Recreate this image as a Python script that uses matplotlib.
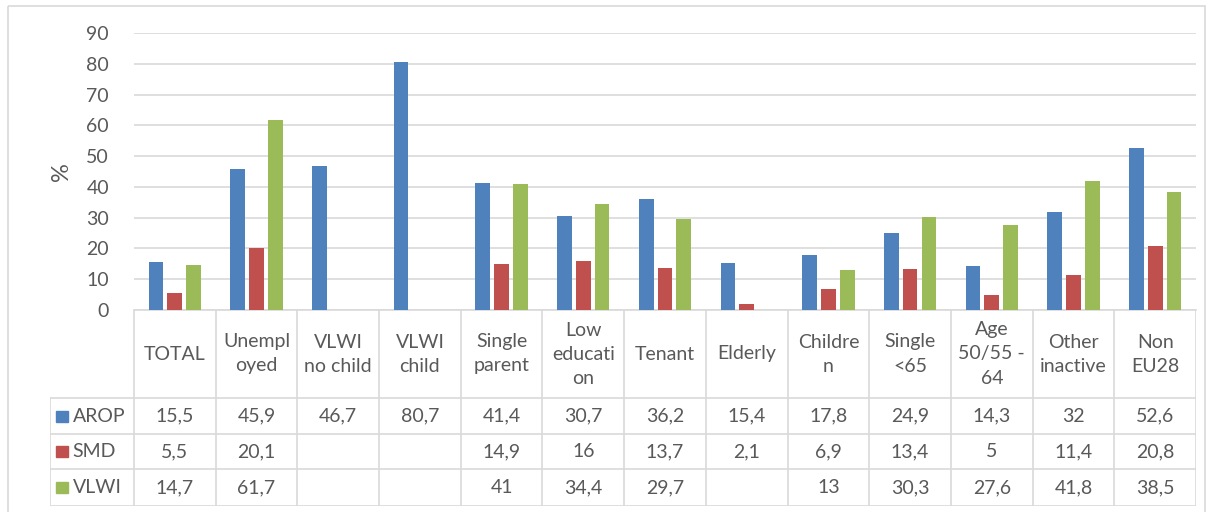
import matplotlib
matplotlib.use("Agg")
import matplotlib.pyplot as plt
from matplotlib.patches import Rectangle
import numpy as np

categories = ["TOTAL", "Unempl\noyed", "VLWI\nno child", "VLWI\nchild", "Single\nparent",
              "Low\neducati\non", "Tenant", "Elderly", "Childre\nn", "Single\n<65",
              "Age\n50/55 -\n64", "Other\ninactive", "Non\nEU28"]
series_names = ["AROP", "SMD", "VLWI"]
arop = [15.5, 45.9, 46.7, 80.7, 41.4, 30.7, 36.2, 15.4, 17.8, 24.9, 14.3, 32, 52.6]
smd = [5.5, 20.1, None, None, 14.9, 16, 13.7, 2.1, 6.9, 13.4, 5, 11.4, 20.8]
vlwi = [14.7, 61.7, None, None, 41, 34.4, 29.7, None, 13, 30.3, 27.6, 41.8, 38.5]
colors = ["#4F81BD", "#C0504D", "#9BBB59"]
yticks = [0, 10, 20, 30, 40, 50, 60, 70, 80, 90]

TXT = "#595959"
GRID = "#D9D9D9"
FONT = "Lato"
FS = 14

W, H = 1214, 512
fig = plt.figure(figsize=(W / 100, H / 100), dpi=100)

def px(x0, y0, x1, y1):
    return [x0 / W, 1 - y1 / H, (x1 - x0) / W, (y1 - y0) / H]

# Chart outer border
bg = fig.add_axes([0, 0, 1, 1])
bg.set_xlim(0, W)
bg.set_ylim(H, 0)
bg.axis("off")
bg.add_patch(Rectangle((8, 6), 1197, 520, fill=False, edgecolor=GRID, lw=1.2))

# Plot area
left, right, top, bottom = 134, 1196, 33, 310
ax = fig.add_axes(px(left, top, right, bottom))
n = len(categories)
x = np.arange(n)
bw = 0.18
gap = 0.05
all_series = [arop, smd, vlwi]
for i, (vals, c) in enumerate(zip(all_series, colors)):
    xs = [xi + (i - 1) * (bw + gap) for xi, v in zip(x, vals) if v is not None]
    vs = [v for v in vals if v is not None]
    ax.bar(xs, vs, width=bw, color=c, zorder=3)
ax.set_xlim(-0.5, n - 0.5)
ax.set_ylim(0, 90)
ax.set_yticks(yticks)
ax.set_yticklabels([str(t) for t in yticks], fontsize=FS, color=TXT, family=FONT)
ax.tick_params(axis="y", length=0, pad=18)
ax.set_xticks([])
ax.grid(axis="y", color=GRID, lw=1.2, zorder=0)
for s in ["top", "right", "left"]:
    ax.spines[s].set_visible(False)
ax.spines["bottom"].set_color(GRID)
ax.spines["bottom"].set_linewidth(1.2)
ax.set_ylabel("%", fontsize=FS + 3, color=TXT, family=FONT, labelpad=10)

# Data table below, sharing the category axis
tb = fig.add_axes(px(50, bottom, right, 506))
cw = (right - left) / n
legw = left - 50
tb.set_xlim(-0.5 - legw / cw, n - 0.5)
row_edges = [0, 88, 124, 159, 196]  # pixel offsets from bottom of plot
tb.set_ylim(196, 0)
tb.axis("off")
lc = dict(color=GRID, lw=1.2)
xl = -0.5 - legw / cw + 0.005
# horizontal lines
for r in row_edges[1:]:
    tb.plot([xl, n - 0.5], [r, r], **lc)
# vertical lines
for k in range(n + 1):
    tb.plot([k - 0.5, k - 0.5], [0, 196], **lc)
tb.plot([xl, xl], [88, 196], **lc)
# header labels
for k, cat in enumerate(categories):
    tb.text(k, 44, cat, ha="center", va="center", fontsize=FS, color=TXT,
            family=FONT, linespacing=1.5)
# rows
for r, (name, vals, c) in enumerate(zip(series_names, all_series, colors)):
    yc = (row_edges[r + 1] + row_edges[r + 2]) / 2
    tb.add_patch(Rectangle((xl + 0.07, yc - 5.5), 0.14, 11, color=c))
    tb.text(xl + 0.27, yc, name, ha="left", va="center", fontsize=FS,
            color=TXT, family=FONT)
    for k, v in enumerate(vals):
        if v is None:
            continue
        s = (f"{v:g}").replace(".", ",")
        tb.text(k, yc, s, ha="center", va="center", fontsize=FS,
                color=TXT, family=FONT)

fig.savefig("out.png", dpi=100)
